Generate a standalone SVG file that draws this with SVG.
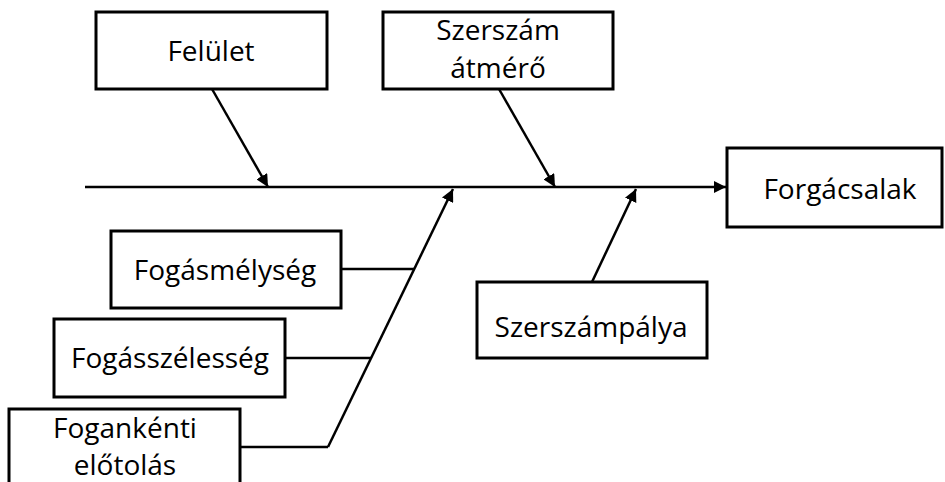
<svg xmlns="http://www.w3.org/2000/svg" width="945" height="482" viewBox="0 0 945 482">
  <style>
    .box { fill: #ffffff; stroke: #000000; stroke-width: 3; }
    .lbl { font-family: "Open Sans", "Noto Sans", "Liberation Sans", sans-serif; font-size: 28px; fill: #000000; text-anchor: middle; }
    .ln { stroke: #000000; stroke-width: 2.5; fill: none; }
  </style>
  <defs>
    <marker id="arr" viewBox="0 0 10 10" refX="10" refY="5" markerWidth="5" markerHeight="5" markerUnits="strokeWidth" orient="auto">
      <path d="M0,0 L10,5 L0,10 Z" fill="#000000"/>
    </marker>
  </defs>

  <rect width="945" height="482" fill="#ffffff"/>

  <g id="connectors">
    <line class="ln" x1="85" y1="187" x2="726" y2="187" marker-end="url(#arr)"/>
    <line class="ln" x1="212" y1="89" x2="268" y2="187" marker-end="url(#arr)"/>
    <line class="ln" x1="499" y1="89" x2="555" y2="187" marker-end="url(#arr)"/>
    <line class="ln" x1="592" y1="282" x2="636" y2="189" marker-end="url(#arr)"/>
    <line class="ln" x1="328" y1="447" x2="453" y2="189" marker-end="url(#arr)"/>
    <line class="ln" x1="341" y1="269" x2="415" y2="269"/>
    <line class="ln" x1="285" y1="358" x2="371" y2="358"/>
    <line class="ln" x1="240" y1="447" x2="328" y2="447"/>
  </g>

  <g id="felulet">
    <rect class="box" x="96" y="12" width="231" height="77"/>
    <text class="lbl" x="211" y="61">Felület</text>
  </g>

  <g id="szerszam-atmero">
    <rect class="box" x="383" y="12" width="230" height="77"/>
    <text class="lbl" x="498" y="40">Szerszám</text>
    <text class="lbl" x="498" y="78">átmérő</text>
  </g>

  <g id="forgacsalak">
    <rect class="box" x="727" y="148" width="215" height="79"/>
    <text class="lbl" x="840" y="199">Forgácsalak</text>
  </g>

  <g id="szerszampalya">
    <rect class="box" x="477" y="282" width="230" height="76"/>
    <text class="lbl" x="591" y="337">Szerszámpálya</text>
  </g>

  <g id="fogasmelyseg">
    <rect class="box" x="111" y="231" width="230" height="77"/>
    <text class="lbl" x="225" y="280">Fogásmélység</text>
  </g>

  <g id="fogasszelesseg">
    <rect class="box" x="54" y="319" width="231" height="78"/>
    <text class="lbl" x="170" y="368">Fogásszélesség</text>
  </g>

  <g id="fogankenti-elotolas">
    <rect class="box" x="9" y="409" width="231" height="90"/>
    <text class="lbl" x="125" y="438">Fogankénti</text>
    <text class="lbl" x="125" y="475">előtolás</text>
  </g>
</svg>
